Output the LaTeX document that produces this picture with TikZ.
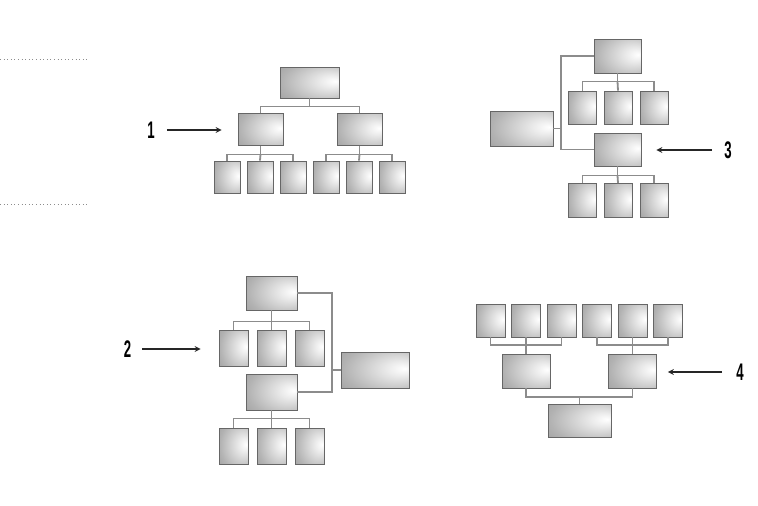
\documentclass[tikz,border=0pt]{standalone}
\usepackage{fontspec}
\setmainfont{Liberation Sans}
\pgfdeclareradialshading{orgShade}{\pgfpoint{22bp}{2bp}}{color(0bp)=(white); color(10bp)=(black!8); color(35bp)=(black!30); color(75bp)=(black!55)}
\begin{document}
\begin{tikzpicture}[x=1pt, y=-1pt,
    orgBoxStyle/.style={draw=black!60, line width=0.8pt, shading=orgShade, inner sep=0pt},
    orgLinkStyle/.style={draw=black!45, line width=1.8pt},
    orgArrowStyle/.style={->, >=stealth, line width=1.6pt, black!85},
    orgLabelStyle/.style={inner sep=0pt, font=\fontsize{24}{24}\selectfont\bfseries, xscale=0.55},
    orgDotStyle/.style={draw=black!45, line width=0.8pt, dash pattern=on 1pt off 2.6pt}]
    \useasboundingbox (0,0) rectangle (758,506);

    % margin rules
    \draw[orgDotStyle] (0,59) -- (87,59);
    \draw[orgDotStyle] (0,204) -- (87,204);

    % chart 1: plain tree
    \node[orgBoxStyle, minimum width=59, minimum height=31] (t1) at (309.5, 82.5) {};
    \node[orgBoxStyle, minimum width=45, minimum height=32] (m1a) at (260.5, 129.5) {};
    \node[orgBoxStyle, minimum width=45, minimum height=32] (m1b) at (359.5, 129.5) {};
    \foreach \i/\x in {1/227, 2/260, 3/293, 4/326, 5/359, 6/392}
        \node[orgBoxStyle, minimum width=26, minimum height=32] (l1\i) at (\x, 177) {};
    \draw[orgLinkStyle] (t1.south) -- ++(0,8) coordinate (j1);
    \draw[orgLinkStyle] (m1a.north) |- (j1) -| (m1b.north);
    \draw[orgLinkStyle] (m1a.south) -- ++(0,8.5) coordinate (j1a);
    \draw[orgLinkStyle] (l11.north) |- (j1a) -| (l13.north);
    \draw[orgLinkStyle] (l12.north) -- (j1a);
    \draw[orgLinkStyle] (m1b.south) -- ++(0,8.5) coordinate (j1b);
    \draw[orgLinkStyle] (l14.north) |- (j1b) -| (l16.north);
    \draw[orgLinkStyle] (l15.north) -- (j1b);
    \node[orgLabelStyle] (n1) at (151, 130) {1};
    \draw[orgArrowStyle, shorten <=12pt, shorten >=16pt] (n1.east) -- (n1.east -| m1a.west);

    % chart 3: side box on the left
    \node[orgBoxStyle, minimum width=47, minimum height=34] (t3) at (617.5, 56) {};
    \node[orgBoxStyle, minimum width=47, minimum height=33] (m3) at (617.5, 149.5) {};
    \node[orgBoxStyle, minimum width=63, minimum height=35] (s3) at (521.5, 128.5) {};
    \foreach \i/\x in {1/582.5, 2/618, 3/654} {
        \node[orgBoxStyle, minimum width=28, minimum height=33] (l3a\i) at (\x, 107.5) {};
        \node[orgBoxStyle, minimum width=28, minimum height=34] (l3b\i) at (\x, 200.5) {};
    }
    \draw[orgLinkStyle] (t3.south) -- ++(0,8) coordinate (j3a);
    \draw[orgLinkStyle] (l3a1.north) |- (j3a) -| (l3a3.north);
    \draw[orgLinkStyle] (l3a2.north) -- (j3a);
    \draw[orgLinkStyle] (m3.south) -- ++(0,9) coordinate (j3b);
    \draw[orgLinkStyle] (l3b1.north) |- (j3b) -| (l3b3.north);
    \draw[orgLinkStyle] (l3b2.north) -- (j3b);
    \draw[orgLinkStyle] (t3.west) -| (561, 149.5) -- (m3.west);
    \draw[orgLinkStyle] (s3.east) -- (561, 128.5);
    \node[orgLabelStyle] (n3) at (728, 150) {3};
    \draw[orgArrowStyle, shorten <=12pt, shorten >=15pt] (n3.west) -- (n3.west -| m3.east);

    % chart 2: side box on the right
    \node[orgBoxStyle, minimum width=51, minimum height=34] (t2) at (271.5, 293) {};
    \node[orgBoxStyle, minimum width=51, minimum height=36] (m2) at (271.5, 392) {};
    \node[orgBoxStyle, minimum width=68, minimum height=36] (s2) at (375, 370) {};
    \foreach \i/\x in {1/233.5, 2/271.5, 3/309.5} {
        \node[orgBoxStyle, minimum width=29, minimum height=36] (l2a\i) at (\x, 348) {};
        \node[orgBoxStyle, minimum width=29, minimum height=36] (l2b\i) at (\x, 446) {};
    }
    \draw[orgLinkStyle] (t2.south) -- ++(0,11) coordinate (j2a);
    \draw[orgLinkStyle] (l2a1.north) |- (j2a) -| (l2a3.north);
    \draw[orgLinkStyle] (l2a2.north) -- (j2a);
    \draw[orgLinkStyle] (m2.south) -- ++(0,8) coordinate (j2b);
    \draw[orgLinkStyle] (l2b1.north) |- (j2b) -| (l2b3.north);
    \draw[orgLinkStyle] (l2b2.north) -- (j2b);
    \draw[orgLinkStyle] (t2.east) -| (332, 392) -- (m2.east);
    \draw[orgLinkStyle] (s2.west) -- (332, 370);
    \node[orgLabelStyle] (n2) at (127.5, 349) {2};
    \draw[orgArrowStyle, shorten <=11pt, shorten >=18pt] (n2.east) -- (n2.east -| l2a1.west);

    % chart 4: upside-down tree
    \foreach \i/\x in {1/490.5, 2/526, 3/561.5, 4/597, 5/632.5, 6/668}
        \node[orgBoxStyle, minimum width=29, minimum height=33] (l4\i) at (\x, 320.5) {};
    \node[orgBoxStyle, minimum width=48, minimum height=34] (m4a) at (526, 371) {};
    \node[orgBoxStyle, minimum width=48, minimum height=34] (m4b) at (632.5, 371) {};
    \node[orgBoxStyle, minimum width=63, minimum height=33] (b4) at (579.5, 420.5) {};
    \draw[orgLinkStyle] (m4a.north) -- ++(0,-8.5) coordinate (j4a);
    \draw[orgLinkStyle] (l41.south) |- (j4a) -| (l43.south);
    \draw[orgLinkStyle] (l42.south) -- (j4a);
    \draw[orgLinkStyle] (m4b.north) -- ++(0,-8.5) coordinate (j4b);
    \draw[orgLinkStyle] (l44.south) |- (j4b) -| (l46.south);
    \draw[orgLinkStyle] (l45.south) -- (j4b);
    \draw[orgLinkStyle] (b4.north) -- ++(0,-7) coordinate (j4c);
    \draw[orgLinkStyle] (m4a.south) |- (j4c) -| (m4b.south);
    \node[orgLabelStyle] (n4) at (740, 372) {4};
    \draw[orgArrowStyle, shorten <=14pt, shorten >=11pt] (n4.west) -- (n4.west -| m4b.east);
\end{tikzpicture}
\end{document}
